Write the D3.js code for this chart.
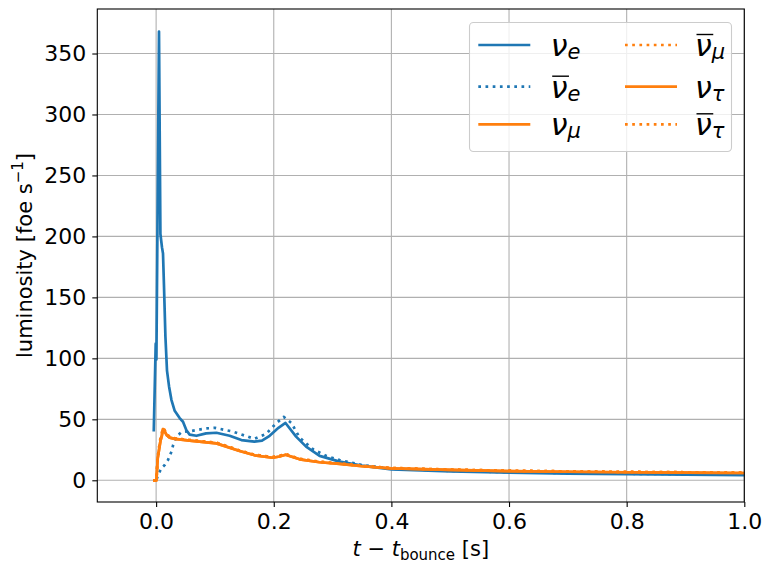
<!DOCTYPE html>
<html><head><meta charset="utf-8">
<script src="https://cdn.jsdelivr.net/npm/d3@7"></script>
<style>body{margin:0;background:#fff}svg{display:block}text{font-family:"DejaVu Sans",sans-serif}</style>
</head><body><svg id="c" width="772" height="571"></svg>
<script>
// ---- data ----
const tNuE  = [-0.004,-0.0007,0.0005,0.0049,0.0073,0.010,0.0117,0.0134,0.0158,0.0185,0.022,0.026,0.0316,0.040,0.0457,0.0515,0.057,0.0685,0.085,0.1025,0.125,0.145,0.167,0.18,0.193,0.208,0.22,0.238,0.255,0.278,0.312,0.35,0.4,0.5,0.6,0.7,0.8,0.9,1.0,1.05];
const nuE   = [40,112,99,368,202,191,186,159,118,90,77,66,57,51,48,41,37.5,36.5,38.5,39,36.5,33,31.7,32.5,36.5,43,47,35.8,27.6,20,15.3,12,9,7.3,6.2,5.5,5,4.6,4.3,4.2];
const tNuEb = [0.001,0.003,0.009,0.0146,0.0202,0.026,0.029,0.0345,0.043,0.06,0.085,0.1,0.13,0.167,0.187,0.204,0.217,0.23,0.244,0.266,0.289,0.312,0.35,0.4,0.5,0.6,0.7,0.8,0.9,1.0,1.05];
const nuEb  = [1,4,10,12.5,16.6,23.5,29,35.8,39.4,40.5,42.5,43,40,34,38,46.7,52,47,35,25.7,20,16.6,12.5,9.5,7.7,6.6,6,5.4,5,4.7,4.6];
const tNuX  = [-0.005,0.0005,0.0015,0.0027,0.005,0.0073,0.0095,0.0117,0.0146,0.018,0.023,0.0316,0.057,0.1025,0.142,0.1675,0.198,0.21,0.22,0.244,0.278,0.312,0.35,0.4,0.5,0.6,0.7,0.8,0.9,1.0,1.05];
const nuMu  = [0,0,8,18,25,32,36,42,40,37,35,34,32.5,30.3,24,20.5,18.5,19.5,21,17.2,14.8,13.4,11.5,9.8,8.5,7.6,7,6.6,6.3,6,5.9];
const nuMub = [0,0,9,19,27,34,38,43,41,38,35.5,34.5,33,30.8,24.5,21,19,20,21.5,17.6,15.2,13.7,11.8,10.1,8.8,7.9,7.3,6.9,6.6,6.2,6.1];
const nuTau = [0,0,8,18,25,32,36,42,40,37,35,34,32.5,30.3,24,20.5,18.5,19.5,21,17.2,14.8,13.4,11.5,9.8,8.5,7.6,7,6.6,6.3,6,5.9];
const nuTaub= [0,0,9,19,27,34,38,43,41,38,35.5,34.5,33,30.8,24.5,21,19,20,21.5,17.6,15.2,13.7,11.8,10.1,8.8,7.9,7.3,6.9,6.6,6.2,6.1];
const xTicks = [0.0,0.2,0.4,0.6,0.8,1.0];
const yTicks = [0,50,100,150,200,250,300,350];

const blue="#1f77b4", orange="#ff7f0e";
const series = [
  {t:tNuE, v:nuE, c:blue, dot:false, sub:"e", bar:false},
  {t:tNuEb, v:nuEb, c:blue, dot:true, sub:"e", bar:true},
  {t:tNuX, v:nuMu, c:orange, dot:false, sub:"μ", bar:false},
  {t:tNuX, v:nuMub, c:orange, dot:true, sub:"μ", bar:true},
  {t:tNuX, v:nuTau, c:orange, dot:false, sub:"τ", bar:false},
  {t:tNuX, v:nuTaub, c:orange, dot:true, sub:"τ", bar:true}
];

const L=97.3, R=744.3, T=9, B=502;
const svg=d3.select("#c");
const x=d3.scaleLinear().domain([-0.1,1.0]).range([L,R]);
const y=d3.scaleLinear().domain([-17.8,386.5]).range([B,T]);

// grid
const g=svg.append("g");
g.selectAll(".gx").data(xTicks).join("line").attr("x1",d=>x(d)).attr("x2",d=>x(d)).attr("y1",T).attr("y2",B).attr("stroke","#b0b0b0").attr("stroke-width",1.1);
g.selectAll(".gy").data(yTicks).join("line").attr("y1",d=>y(d)).attr("y2",d=>y(d)).attr("x1",L).attr("x2",R).attr("stroke","#b0b0b0").attr("stroke-width",1.1);

svg.append("clipPath").attr("id","clip").append("rect").attr("x",L).attr("y",T).attr("width",R-L).attr("height",B-T);
const line=d3.line().x(d=>x(d[0])).y(d=>y(d[1]));
const pl=svg.append("g").attr("clip-path","url(#clip)");
series.forEach(s=>{
  pl.append("path").attr("d",line(s.t.map((t,i)=>[t,s.v[i]]))).attr("fill","none").attr("stroke",s.c)
   .attr("stroke-width",2.7).attr("stroke-linejoin","round")
   .attr("stroke-dasharray",s.dot?"2.7,4.5":null);
});

// axes
const xa=svg.append("g").attr("transform",`translate(0,${B})`).call(d3.axisBottom(x).tickValues(xTicks).tickFormat(d3.format(".1f")).tickSize(5).tickPadding(6));
const ya=svg.append("g").attr("transform",`translate(${L},0)`).call(d3.axisLeft(y).tickValues(yTicks).tickSize(5).tickPadding(6));
[xa,ya].forEach(a=>{a.select(".domain").remove();a.selectAll("text").attr("font-size",22).attr("font-family","DejaVu Sans").attr("fill","#000");a.selectAll("line").attr("stroke","#000").attr("stroke-width",1.1);});
svg.append("rect").attr("x",L).attr("y",T).attr("width",R-L).attr("height",B-T).attr("fill","none").attr("stroke","#000").attr("stroke-width",1.1);

// axis labels
const xl=svg.append("text").attr("x",(L+R)/2).attr("y",556).attr("text-anchor","middle").attr("font-size",21);
xl.append("tspan").attr("font-style","italic").text("t");
xl.append("tspan").text(" − ");
xl.append("tspan").attr("font-style","italic").text("t");
xl.append("tspan").attr("font-size",15).attr("dy",4).text("bounce");
xl.append("tspan").attr("dy",-4).text(" [s]");

const yl=svg.append("text").attr("transform",`translate(32,${(T+B)/2}) rotate(-90)`).attr("text-anchor","middle").attr("font-size",21);
yl.append("tspan").text("luminosity [foe s");
yl.append("tspan").attr("font-size",15).attr("dy",-9).text("−1");
yl.append("tspan").attr("dy",9).text("]");

// legend
const lg=svg.append("g");
lg.append("rect").attr("x",469.5).attr("y",22.5).attr("width",262).attr("height",129).attr("rx",4)
  .attr("fill","#fff").attr("fill-opacity",0.8).attr("stroke","#cccccc").attr("stroke-width",1.1);
const rowsY=[45,86.7,124.3];
series.forEach((s,i)=>{
  const col=Math.floor(i/3), row=i%3;
  const hx=col===0?478.3:625, tx=col===0?550.7:695, hy=rowsY[row];
  lg.append("line").attr("x1",hx).attr("x2",hx+52).attr("y1",hy).attr("y2",hy).attr("stroke",s.c).attr("stroke-width",2.7)
    .attr("stroke-dasharray",s.dot?"2.7,4.5":null);
  const tt=lg.append("text").attr("x",tx).attr("y",hy+11).attr("font-size",30);
  tt.append("tspan").attr("font-style","italic").text("ν");
  tt.append("tspan").attr("font-style","italic").attr("font-size",21).attr("dy",3).text(s.sub);
  if(s.bar){
    const w=tt.node().getSubStringLength(0,1);
    lg.append("line").attr("x1",tx+1.5).attr("x2",tx+w+1.5).attr("y1",hy-10.5).attr("y2",hy-10.5).attr("stroke","#000").attr("stroke-width",1.4);
  }
});
</script></body></html>
